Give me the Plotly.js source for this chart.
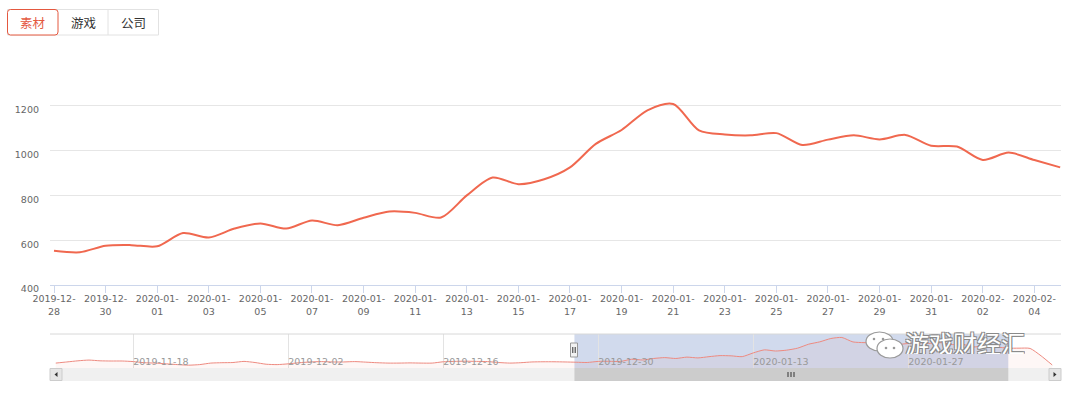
<!DOCTYPE html>
<html>
<head>
<meta charset="utf-8">
<script src="https://cdn.plot.ly/plotly-3.0.1.min.js"></script>
<style>html,body{margin:0;padding:0;background:#fff;}#chart{width:1073px;height:393px;}</style>
</head>
<body>
<div id="chart"></div>
<script>
// ---- data ----
const mainDates = ['2019-12-28','2019-12-29','2019-12-30','2019-12-31','2020-01-01','2020-01-02','2020-01-03','2020-01-04','2020-01-05','2020-01-06',
  '2020-01-07','2020-01-08','2020-01-09','2020-01-10','2020-01-11','2020-01-12','2020-01-13','2020-01-14','2020-01-15','2020-01-16',
  '2020-01-17','2020-01-18','2020-01-19','2020-01-20','2020-01-21','2020-01-22','2020-01-23','2020-01-24','2020-01-25','2020-01-26',
  '2020-01-27','2020-01-28','2020-01-29','2020-01-30','2020-01-31','2020-02-01','2020-02-02','2020-02-03','2020-02-04','2020-02-05'];
const mainValues = [553,546,575,578,573,632,612,652,675,652,
  688,667,700,728,722,701,800,880,850,872,
  925,1030,1092,1180,1208,1090,1072,1068,1078,1025,
  1049,1068,1050,1070,1022,1018,958,991,958,925];

const navPreDates = ['2019-11-11','2019-11-12','2019-11-13','2019-11-14','2019-11-15','2019-11-16','2019-11-17','2019-11-18','2019-11-19','2019-11-20',
  '2019-11-21','2019-11-22','2019-11-23','2019-11-24','2019-11-25','2019-11-26','2019-11-27','2019-11-28','2019-11-29','2019-11-30',
  '2019-12-01','2019-12-02','2019-12-03','2019-12-04','2019-12-05','2019-12-06','2019-12-07','2019-12-08','2019-12-09','2019-12-10',
  '2019-12-11','2019-12-12','2019-12-13','2019-12-14','2019-12-15','2019-12-16','2019-12-17','2019-12-18','2019-12-19','2019-12-20',
  '2019-12-21','2019-12-22','2019-12-23','2019-12-24','2019-12-25','2019-12-26','2019-12-27'];
const navPreValues = [530,560,590,610,590,585,585,570,540,530,
  510,490,475,490,530,540,545,575,545,500,
  490,510,540,560,570,560,560,570,555,540,
  530,530,535,530,530,565,575,580,575,570,
  545,530,540,560,565,565,560];
const navPostDates = ['2020-02-06','2020-02-07','2020-02-08','2020-02-09'];
const navPostValues = [925,918,720,480];

const xTickDates = ['2019-12-28','2019-12-30','2020-01-01','2020-01-03','2020-01-05','2020-01-07','2020-01-09','2020-01-11','2020-01-13','2020-01-15',
  '2020-01-17','2020-01-19','2020-01-21','2020-01-23','2020-01-25','2020-01-27','2020-01-29','2020-01-31','2020-02-02','2020-02-04'];
const xTickLabels = ['2019-12-<br>28','2019-12-<br>30','2020-01-<br>01','2020-01-<br>03','2020-01-<br>05','2020-01-<br>07','2020-01-<br>09','2020-01-<br>11','2020-01-<br>13','2020-01-<br>15',
  '2020-01-<br>17','2020-01-<br>19','2020-01-<br>21','2020-01-<br>23','2020-01-<br>25','2020-01-<br>27','2020-01-<br>29','2020-01-<br>31','2020-02-<br>02','2020-02-<br>04'];
const yTickVals = [400,600,800,1000,1200,1400];
const yTickLabels = ['400','600','800','1000','1200',''];
const navTickDates = ['2019-11-18','2019-12-02','2019-12-16','2019-12-30','2020-01-13','2020-01-27'];
const navTickLabels = ['2019-11-18','2019-12-02','2019-12-16','2019-12-30','2020-01-13','2020-01-27'];
const buttonLabels = ['素材','游戏','公司'];
const watermarkText = '游戏财经汇';

const mainRange = ['2019-12-27 20:17','2020-02-05 00:45'];
const navRange = ['2019-11-10 11:30','2020-02-09 19:00'];

// ---- geometry helpers (pixel -> paper) ----
const ML = 50, MR = 12, MT = 61, MB = 12, WIDTH = 1073, HEIGHT = 393;
const PW = WIDTH - ML - MR, PH = HEIGHT - MT - MB;
const px = x => (x - ML) / PW;
const py = y => (HEIGHT - MB - y) / PH;

const navDates = navPreDates.concat(mainDates, navPostDates);
const navValues = navPreValues.concat(mainValues, navPostValues);

const LINE = '#f0684f';

const traces = [
  {x: mainDates, y: mainValues, type: 'scatter', mode: 'lines', xaxis: 'x', yaxis: 'y',
   line: {color: LINE, width: 2, shape: 'spline', smoothing: 0.8}, hoverinfo: 'skip'},
  {x: navDates, y: navValues, type: 'scatter', mode: 'lines', xaxis: 'x2', yaxis: 'y2',
   line: {color: '#ee8a80', width: 1, shape: 'spline', smoothing: 0.6},
   fill: 'tozeroy', fillcolor: 'rgba(240,104,79,0.05)', hoverinfo: 'skip'}
];

const shapes = [];
const annotations = [];

// navigator selection mask
shapes.push({type: 'rect', xref: 'x2', yref: 'paper', x0: mainRange[0], x1: mainRange[1], y0: py(368), y1: py(334),
  fillcolor: 'rgba(102,133,194,0.3)', line: {width: 0}, layer: 'between'});
// navigator top outline
shapes.push({type: 'line', xref: 'paper', yref: 'paper', x0: 0, x1: 1, y0: py(334), y1: py(334), line: {color: '#d8d8d8', width: 1}});
// scrollbar track
shapes.push({type: 'rect', xref: 'paper', yref: 'paper', x0: 0, x1: 1, y0: py(381), y1: py(368), fillcolor: '#f0f0f0', line: {width: 0}});
// scrollbar thumb
shapes.push({type: 'rect', xref: 'x2', yref: 'paper', x0: mainRange[0], x1: mainRange[1], y0: py(381), y1: py(368), fillcolor: '#cccccc', line: {width: 0}});
// scrollbar buttons
shapes.push({type: 'rect', xref: 'paper', yref: 'paper', x0: px(50), x1: px(62), y0: py(380.5), y1: py(368.5), fillcolor: '#e6e6e6', line: {color: '#cccccc', width: 1}});
shapes.push({type: 'rect', xref: 'paper', yref: 'paper', x0: px(1049), x1: px(1061), y0: py(380.5), y1: py(368.5), fillcolor: '#e6e6e6', line: {color: '#cccccc', width: 1}});
shapes.push({type: 'path', xref: 'paper', yref: 'paper', path: `M ${px(54.5)} ${py(374.5)} L ${px(57.5)} ${py(372)} L ${px(57.5)} ${py(377)} Z`, fillcolor: '#333', line: {width: 0}});
shapes.push({type: 'path', xref: 'paper', yref: 'paper', path: `M ${px(1056.5)} ${py(374.5)} L ${px(1053.5)} ${py(372)} L ${px(1053.5)} ${py(377)} Z`, fillcolor: '#333', line: {width: 0}});
// thumb grip
const gripC = 791;
[-3, 0, 3].forEach(d => shapes.push({type: 'line', xref: 'paper', yref: 'paper', x0: px(gripC + d), x1: px(gripC + d), y0: py(377), y1: py(372), line: {color: '#333', width: 1}}));
// navigator handle (left)
shapes.push({type: 'rect', xref: 'paper', yref: 'paper', x0: px(570.5), x1: px(577.5), y0: py(357), y1: py(343), fillcolor: '#f2f2f2', line: {color: '#999', width: 1}});
[572.8, 575.2].forEach(x => shapes.push({type: 'line', xref: 'paper', yref: 'paper', x0: px(x), x1: px(x), y0: py(353), y1: py(347), line: {color: '#333', width: 1}}));

// buttons
const btnX = [[7.5, 58], [58, 108], [108, 158.5]];
shapes.push({type: 'rect', xref: 'paper', yref: 'paper', x0: px(7.5), x1: px(158.5), y0: py(35), y1: py(9.5), fillcolor: '#fff', line: {color: '#e2e2e2', width: 1}});
shapes.push({type: 'line', xref: 'paper', yref: 'paper', x0: px(108), x1: px(108), y0: py(35), y1: py(9.5), line: {color: '#e2e2e2', width: 1}});
{
  const r = 3, x0 = px(7.5), x1 = px(58), yT = py(9.5), yB = py(35), rx = r / PW, ry = r / PH;
  shapes.push({type: 'path', xref: 'paper', yref: 'paper',
    path: `M ${x0 + rx} ${yT} L ${x1 - rx} ${yT} Q ${x1} ${yT} ${x1} ${yT - ry} L ${x1} ${yB + ry} Q ${x1} ${yB} ${x1 - rx} ${yB} L ${x0 + rx} ${yB} Q ${x0} ${yB} ${x0} ${yB + ry} L ${x0} ${yT - ry} Q ${x0} ${yT} ${x0 + rx} ${yT} Z`,
    fillcolor: '#fff', line: {color: '#e4583f', width: 1}});
}
buttonLabels.forEach((t, i) => {
  annotations.push({xref: 'paper', yref: 'paper', x: px((btnX[i][0] + btnX[i][1]) / 2), y: py(22.5), text: t, showarrow: false,
    xanchor: 'center', yanchor: 'middle',
    font: {family: 'Noto Sans CJK SC, sans-serif', size: 12.5, color: i === 0 ? '#e4583f' : '#333'}});
});

// watermark (wechat-like bubbles + text)
shapes.push({type: 'circle', xref: 'paper', yref: 'paper', x0: px(866), x1: px(893), y0: py(351), y1: py(332), fillcolor: '#ffffff', line: {color: '#9a9a9a', width: 1.2}});
shapes.push({type: 'circle', xref: 'paper', yref: 'paper', x0: px(877), x1: px(903), y0: py(358), y1: py(339), fillcolor: '#ffffff', line: {color: '#9a9a9a', width: 1.2}});
[[874,339],[883,339],[886,348],[894,348]].forEach(p => shapes.push({type: 'circle', xref: 'paper', yref: 'paper',
  x0: px(p[0] - 1.3), x1: px(p[0] + 1.3), y0: py(p[1] + 1.3), y1: py(p[1] - 1.3), fillcolor: '#999', line: {width: 0}}));
annotations.push({xref: 'paper', yref: 'paper', x: px(965), y: py(342), text: watermarkText, showarrow: false, xanchor: 'center', yanchor: 'middle',
  height: 24, borderpad: 0, valign: 'middle',
  font: {family: 'Noto Sans CJK SC, sans-serif', size: 24, color: '#ffffff',
    shadow: '1px 1px 0 #8a8a8a, -1px -1px 0 #8a8a8a, 1px -1px 0 #8a8a8a, -1px 1px 0 #8a8a8a'}});

const layout = {
  width: WIDTH, height: HEIGHT,
  margin: {l: ML, r: MR, t: MT, b: MB, pad: 0},
  paper_bgcolor: '#fff', plot_bgcolor: 'rgba(0,0,0,0)',
  showlegend: false,
  font: {family: 'DejaVu Sans, sans-serif', size: 9.5, color: '#666'},
  xaxis: {type: 'date', range: mainRange, domain: [0, 1], anchor: 'y',
    tickmode: 'array', tickvals: xTickDates, ticktext: xTickLabels,
    showgrid: false, zeroline: false, showline: true, linecolor: '#ccd6eb', linewidth: 1,
    ticks: 'outside', ticklen: 7, tickcolor: '#ccd6eb', tickwidth: 1, ticklabelstandoff: -2,
    tickfont: {family: 'DejaVu Sans, sans-serif', size: 9.5, color: '#666'}, fixedrange: true},
  yaxis: {range: [400, 1400], domain: [py(285), 1], anchor: 'x',
    tickmode: 'array', tickvals: yTickVals, ticktext: yTickLabels,
    showgrid: true, gridcolor: '#e6e6e6', gridwidth: 1, zeroline: false, showline: false,
    ticks: '', ticklabelstandoff: 10, ticklabelshift: 4,
    tickfont: {family: 'DejaVu Sans, sans-serif', size: 9.5, color: '#666'}, fixedrange: true},
  xaxis2: {type: 'date', range: navRange, domain: [0, 1], anchor: 'y2',
    tickmode: 'array', tickvals: navTickDates, ticktext: navTickLabels,
    showgrid: true, gridcolor: '#e3e3e3', gridwidth: 1, zeroline: false, showline: false, ticks: '',
    ticklabelposition: 'inside right', ticklabelstandoff: -5,
    tickfont: {family: 'DejaVu Sans, sans-serif', size: 9.5, color: '#999'}, fixedrange: true},
  yaxis2: {range: [400, 1300], domain: [py(368), py(334)], anchor: 'x2', visible: false, fixedrange: true},
  shapes: shapes,
  annotations: annotations
};

Plotly.newPlot('chart', traces, layout, {displayModeBar: false, staticPlot: true});
</script>
</body>
</html>
